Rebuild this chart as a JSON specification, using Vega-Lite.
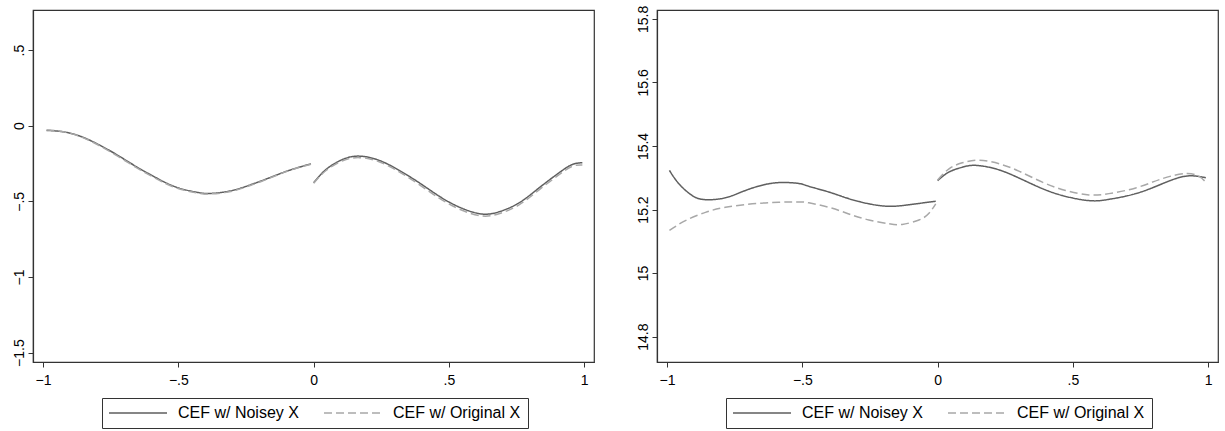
{
  "$schema": "https://vega.github.io/schema/vega-lite/v6.json",
  "padding": {"left": 11, "top": 4, "right": 5, "bottom": 5},
  "background": "white",
  "config": {
    "view": {"stroke": "#333333", "strokeWidth": 1.2},
    "font": "Liberation Sans",
    "axis": {
      "grid": false,
      "domainColor": "#333333",
      "domainWidth": 1.2,
      "tickColor": "#333333",
      "tickSize": 5,
      "tickWidth": 1,
      "labelFont": "Liberation Sans",
      "labelFontSize": 14,
      "labelColor": "#000000",
      "labelFlush": false,
      "title": null
    },
    "legend": {
      "orient": "none",
      "legendX": 69,
      "legendY": 388,
      "direction": "horizontal",
      "symbolType": "M-5.8,0H5.8",
      "symbolSize": 100,
      "symbolOffset": 21,
      "symbolStrokeWidth": 1.5,
      "labelFont": "Liberation Sans",
      "labelFontSize": 16,
      "labelColor": "#000000",
      "labelOffset": 32,
      "columnPadding": 22,
      "padding": 7,
      "strokeColor": "#333333",
      "fillColor": "white",
      "title": null
    }
  },
  "datasets": {
    "left": [
      {"series": "CEF w/ Noisey X", "seg": 1, "x": -0.987, "y": -0.031},
      {"series": "CEF w/ Noisey X", "seg": 1, "x": -0.926, "y": -0.040},
      {"series": "CEF w/ Noisey X", "seg": 1, "x": -0.865, "y": -0.068},
      {"series": "CEF w/ Noisey X", "seg": 1, "x": -0.803, "y": -0.117},
      {"series": "CEF w/ Noisey X", "seg": 1, "x": -0.729, "y": -0.190},
      {"series": "CEF w/ Noisey X", "seg": 1, "x": -0.655, "y": -0.271},
      {"series": "CEF w/ Noisey X", "seg": 1, "x": -0.582, "y": -0.344},
      {"series": "CEF w/ Noisey X", "seg": 1, "x": -0.508, "y": -0.406},
      {"series": "CEF w/ Noisey X", "seg": 1, "x": -0.434, "y": -0.439},
      {"series": "CEF w/ Noisey X", "seg": 1, "x": -0.385, "y": -0.448},
      {"series": "CEF w/ Noisey X", "seg": 1, "x": -0.311, "y": -0.432},
      {"series": "CEF w/ Noisey X", "seg": 1, "x": -0.237, "y": -0.393},
      {"series": "CEF w/ Noisey X", "seg": 1, "x": -0.163, "y": -0.344},
      {"series": "CEF w/ Noisey X", "seg": 1, "x": -0.090, "y": -0.295},
      {"series": "CEF w/ Noisey X", "seg": 1, "x": -0.010, "y": -0.252},
      {"series": "CEF w/ Noisey X", "seg": 2, "x": 0.000, "y": -0.377},
      {"series": "CEF w/ Noisey X", "seg": 2, "x": 0.046, "y": -0.289},
      {"series": "CEF w/ Noisey X", "seg": 2, "x": 0.107, "y": -0.223},
      {"series": "CEF w/ Noisey X", "seg": 2, "x": 0.169, "y": -0.201},
      {"series": "CEF w/ Noisey X", "seg": 2, "x": 0.242, "y": -0.229},
      {"series": "CEF w/ Noisey X", "seg": 2, "x": 0.316, "y": -0.295},
      {"series": "CEF w/ Noisey X", "seg": 2, "x": 0.390, "y": -0.377},
      {"series": "CEF w/ Noisey X", "seg": 2, "x": 0.464, "y": -0.466},
      {"series": "CEF w/ Noisey X", "seg": 2, "x": 0.538, "y": -0.538},
      {"series": "CEF w/ Noisey X", "seg": 2, "x": 0.618, "y": -0.583},
      {"series": "CEF w/ Noisey X", "seg": 2, "x": 0.685, "y": -0.569},
      {"series": "CEF w/ Noisey X", "seg": 2, "x": 0.759, "y": -0.510},
      {"series": "CEF w/ Noisey X", "seg": 2, "x": 0.833, "y": -0.411},
      {"series": "CEF w/ Noisey X", "seg": 2, "x": 0.907, "y": -0.311},
      {"series": "CEF w/ Noisey X", "seg": 2, "x": 0.956, "y": -0.256},
      {"series": "CEF w/ Noisey X", "seg": 2, "x": 0.993, "y": -0.245},
      {"series": "CEF w/ Original X", "seg": 1, "x": -0.987, "y": -0.028},
      {"series": "CEF w/ Original X", "seg": 1, "x": -0.926, "y": -0.040},
      {"series": "CEF w/ Original X", "seg": 1, "x": -0.865, "y": -0.070},
      {"series": "CEF w/ Original X", "seg": 1, "x": -0.803, "y": -0.121},
      {"series": "CEF w/ Original X", "seg": 1, "x": -0.729, "y": -0.196},
      {"series": "CEF w/ Original X", "seg": 1, "x": -0.655, "y": -0.277},
      {"series": "CEF w/ Original X", "seg": 1, "x": -0.582, "y": -0.350},
      {"series": "CEF w/ Original X", "seg": 1, "x": -0.508, "y": -0.411},
      {"series": "CEF w/ Original X", "seg": 1, "x": -0.434, "y": -0.443},
      {"series": "CEF w/ Original X", "seg": 1, "x": -0.385, "y": -0.451},
      {"series": "CEF w/ Original X", "seg": 1, "x": -0.311, "y": -0.436},
      {"series": "CEF w/ Original X", "seg": 1, "x": -0.237, "y": -0.397},
      {"series": "CEF w/ Original X", "seg": 1, "x": -0.163, "y": -0.347},
      {"series": "CEF w/ Original X", "seg": 1, "x": -0.090, "y": -0.296},
      {"series": "CEF w/ Original X", "seg": 1, "x": -0.010, "y": -0.255},
      {"series": "CEF w/ Original X", "seg": 2, "x": 0.000, "y": -0.380},
      {"series": "CEF w/ Original X", "seg": 2, "x": 0.046, "y": -0.296},
      {"series": "CEF w/ Original X", "seg": 2, "x": 0.107, "y": -0.232},
      {"series": "CEF w/ Original X", "seg": 2, "x": 0.169, "y": -0.211},
      {"series": "CEF w/ Original X", "seg": 2, "x": 0.242, "y": -0.238},
      {"series": "CEF w/ Original X", "seg": 2, "x": 0.316, "y": -0.305},
      {"series": "CEF w/ Original X", "seg": 2, "x": 0.390, "y": -0.389},
      {"series": "CEF w/ Original X", "seg": 2, "x": 0.464, "y": -0.479},
      {"series": "CEF w/ Original X", "seg": 2, "x": 0.538, "y": -0.551},
      {"series": "CEF w/ Original X", "seg": 2, "x": 0.618, "y": -0.596},
      {"series": "CEF w/ Original X", "seg": 2, "x": 0.685, "y": -0.582},
      {"series": "CEF w/ Original X", "seg": 2, "x": 0.759, "y": -0.523},
      {"series": "CEF w/ Original X", "seg": 2, "x": 0.833, "y": -0.424},
      {"series": "CEF w/ Original X", "seg": 2, "x": 0.907, "y": -0.323},
      {"series": "CEF w/ Original X", "seg": 2, "x": 0.956, "y": -0.268},
      {"series": "CEF w/ Original X", "seg": 2, "x": 0.993, "y": -0.260}
    ],
    "right": [
      {"series": "CEF w/ Noisey X", "seg": 1, "x": -0.991, "y": 15.323},
      {"series": "CEF w/ Noisey X", "seg": 1, "x": -0.956, "y": 15.281},
      {"series": "CEF w/ Noisey X", "seg": 1, "x": -0.907, "y": 15.244},
      {"series": "CEF w/ Noisey X", "seg": 1, "x": -0.858, "y": 15.231},
      {"series": "CEF w/ Noisey X", "seg": 1, "x": -0.784, "y": 15.237},
      {"series": "CEF w/ Noisey X", "seg": 1, "x": -0.710, "y": 15.260},
      {"series": "CEF w/ Noisey X", "seg": 1, "x": -0.636, "y": 15.279},
      {"series": "CEF w/ Noisey X", "seg": 1, "x": -0.574, "y": 15.285},
      {"series": "CEF w/ Noisey X", "seg": 1, "x": -0.513, "y": 15.282},
      {"series": "CEF w/ Noisey X", "seg": 1, "x": -0.476, "y": 15.273},
      {"series": "CEF w/ Noisey X", "seg": 1, "x": -0.402, "y": 15.255},
      {"series": "CEF w/ Noisey X", "seg": 1, "x": -0.328, "y": 15.234},
      {"series": "CEF w/ Noisey X", "seg": 1, "x": -0.254, "y": 15.218},
      {"series": "CEF w/ Noisey X", "seg": 1, "x": -0.180, "y": 15.210},
      {"series": "CEF w/ Noisey X", "seg": 1, "x": -0.106, "y": 15.215},
      {"series": "CEF w/ Noisey X", "seg": 1, "x": -0.007, "y": 15.226},
      {"series": "CEF w/ Noisey X", "seg": 2, "x": 0.000, "y": 15.291},
      {"series": "CEF w/ Noisey X", "seg": 2, "x": 0.042, "y": 15.318},
      {"series": "CEF w/ Noisey X", "seg": 2, "x": 0.091, "y": 15.333},
      {"series": "CEF w/ Noisey X", "seg": 2, "x": 0.140, "y": 15.339},
      {"series": "CEF w/ Noisey X", "seg": 2, "x": 0.214, "y": 15.328},
      {"series": "CEF w/ Noisey X", "seg": 2, "x": 0.288, "y": 15.304},
      {"series": "CEF w/ Noisey X", "seg": 2, "x": 0.375, "y": 15.270},
      {"series": "CEF w/ Noisey X", "seg": 2, "x": 0.461, "y": 15.244},
      {"series": "CEF w/ Noisey X", "seg": 2, "x": 0.559, "y": 15.228},
      {"series": "CEF w/ Noisey X", "seg": 2, "x": 0.633, "y": 15.232},
      {"series": "CEF w/ Noisey X", "seg": 2, "x": 0.732, "y": 15.250},
      {"series": "CEF w/ Noisey X", "seg": 2, "x": 0.830, "y": 15.281},
      {"series": "CEF w/ Noisey X", "seg": 2, "x": 0.917, "y": 15.305},
      {"series": "CEF w/ Noisey X", "seg": 2, "x": 0.991, "y": 15.300},
      {"series": "CEF w/ Original X", "seg": 1, "x": -0.991, "y": 15.134},
      {"series": "CEF w/ Original X", "seg": 1, "x": -0.932, "y": 15.165},
      {"series": "CEF w/ Original X", "seg": 1, "x": -0.858, "y": 15.191},
      {"series": "CEF w/ Original X", "seg": 1, "x": -0.784, "y": 15.207},
      {"series": "CEF w/ Original X", "seg": 1, "x": -0.685, "y": 15.218},
      {"series": "CEF w/ Original X", "seg": 1, "x": -0.587, "y": 15.223},
      {"series": "CEF w/ Original X", "seg": 1, "x": -0.513, "y": 15.224},
      {"series": "CEF w/ Original X", "seg": 1, "x": -0.476, "y": 15.221},
      {"series": "CEF w/ Original X", "seg": 1, "x": -0.402, "y": 15.207},
      {"series": "CEF w/ Original X", "seg": 1, "x": -0.328, "y": 15.186},
      {"series": "CEF w/ Original X", "seg": 1, "x": -0.254, "y": 15.167},
      {"series": "CEF w/ Original X", "seg": 1, "x": -0.180, "y": 15.155},
      {"series": "CEF w/ Original X", "seg": 1, "x": -0.131, "y": 15.153},
      {"series": "CEF w/ Original X", "seg": 1, "x": -0.069, "y": 15.167},
      {"series": "CEF w/ Original X", "seg": 1, "x": -0.032, "y": 15.188},
      {"series": "CEF w/ Original X", "seg": 1, "x": -0.007, "y": 15.218},
      {"series": "CEF w/ Original X", "seg": 2, "x": 0.000, "y": 15.293},
      {"series": "CEF w/ Original X", "seg": 2, "x": 0.042, "y": 15.328},
      {"series": "CEF w/ Original X", "seg": 2, "x": 0.091, "y": 15.347},
      {"series": "CEF w/ Original X", "seg": 2, "x": 0.153, "y": 15.355},
      {"series": "CEF w/ Original X", "seg": 2, "x": 0.227, "y": 15.344},
      {"series": "CEF w/ Original X", "seg": 2, "x": 0.300, "y": 15.321},
      {"series": "CEF w/ Original X", "seg": 2, "x": 0.387, "y": 15.286},
      {"series": "CEF w/ Original X", "seg": 2, "x": 0.473, "y": 15.260},
      {"series": "CEF w/ Original X", "seg": 2, "x": 0.559, "y": 15.246},
      {"series": "CEF w/ Original X", "seg": 2, "x": 0.633, "y": 15.250},
      {"series": "CEF w/ Original X", "seg": 2, "x": 0.732, "y": 15.268},
      {"series": "CEF w/ Original X", "seg": 2, "x": 0.830, "y": 15.297},
      {"series": "CEF w/ Original X", "seg": 2, "x": 0.917, "y": 15.313},
      {"series": "CEF w/ Original X", "seg": 2, "x": 0.966, "y": 15.304},
      {"series": "CEF w/ Original X", "seg": 2, "x": 0.991, "y": 15.286}
    ]
  },
  "bounds": "flush",
  "spacing": 63,
  "resolve": {
    "scale": {"color": "independent", "strokeDash": "independent"},
    "legend": {"color": "independent", "strokeDash": "independent"}
  },
  "hconcat": [
    {
      "width": 561,
      "height": 352,
      "data": {"name": "left"},
      "mark": {"type": "line", "strokeWidth": 1.5, "interpolate": "natural"},
      "encoding": {
        "x": {"field": "x", "type": "quantitative",
              "scale": {"domain": [-1.037, 1.036], "nice": false, "zero": false},
              "axis": {"values": [-1, -0.5, 0, 0.5, 1], "labelPadding": 6, "labelFontSize": 14, "labelFont": "Liberation Sans",
                       "labelExpr": "replace(format(datum.value, '~g'), '0.', '.')"}},
        "y": {"field": "y", "type": "quantitative",
              "scale": {"domain": [-1.562, 0.765], "nice": false, "zero": false},
              "axis": {"values": [-1.5, -1, -0.5, 0, 0.5], "labelAngle": -90, "labelAlign": "center", "labelBaseline": "bottom", "labelPadding": 2, "labelFontSize": 14, "labelFont": "Liberation Sans",
                       "labelExpr": "replace(format(datum.value, '~g'), '0.', '.')"}},
        "color": {"field": "series", "type": "nominal",
                  "scale": {"domain": ["CEF w/ Noisey X", "CEF w/ Original X"], "range": ["#5f5f5f", "#a8a8a8"]},
                  "legend": {"labelFontSize": 16, "orient": "none", "legendX": 69, "legendY": 388}},
        "strokeDash": {"field": "series", "type": "nominal",
                       "scale": {"domain": ["CEF w/ Noisey X", "CEF w/ Original X"], "range": [[1, 0], [8, 4]]}},
        "detail": {"field": "seg", "type": "nominal"}
      }
    },
    {
      "width": 561,
      "height": 352,
      "data": {"name": "right"},
      "mark": {"type": "line", "strokeWidth": 1.5, "interpolate": "natural"},
      "encoding": {
        "x": {"field": "x", "type": "quantitative",
              "scale": {"domain": [-1.037, 1.036], "nice": false, "zero": false},
              "axis": {"values": [-1, -0.5, 0, 0.5, 1], "labelPadding": 6, "labelFontSize": 14, "labelFont": "Liberation Sans",
                       "labelExpr": "replace(format(datum.value, '~g'), '0.', '.')"}},
        "y": {"field": "y", "type": "quantitative",
              "scale": {"domain": [14.72, 15.828], "nice": false, "zero": false},
              "axis": {"values": [14.8, 15, 15.2, 15.4, 15.6, 15.8], "labelAngle": -90, "labelAlign": "center", "labelBaseline": "bottom", "labelPadding": 2, "labelFontSize": 14, "labelFont": "Liberation Sans",
                       "labelExpr": "format(datum.value, '~g')"}},
        "color": {"field": "series", "type": "nominal",
                  "scale": {"domain": ["CEF w/ Noisey X", "CEF w/ Original X"], "range": ["#5f5f5f", "#a8a8a8"]},
                  "legend": {"labelFontSize": 16, "orient": "none", "legendX": 69, "legendY": 388}},
        "strokeDash": {"field": "series", "type": "nominal",
                       "scale": {"domain": ["CEF w/ Noisey X", "CEF w/ Original X"], "range": [[1, 0], [8, 4]]}},
        "detail": {"field": "seg", "type": "nominal"}
      }
    }
  ]
}
